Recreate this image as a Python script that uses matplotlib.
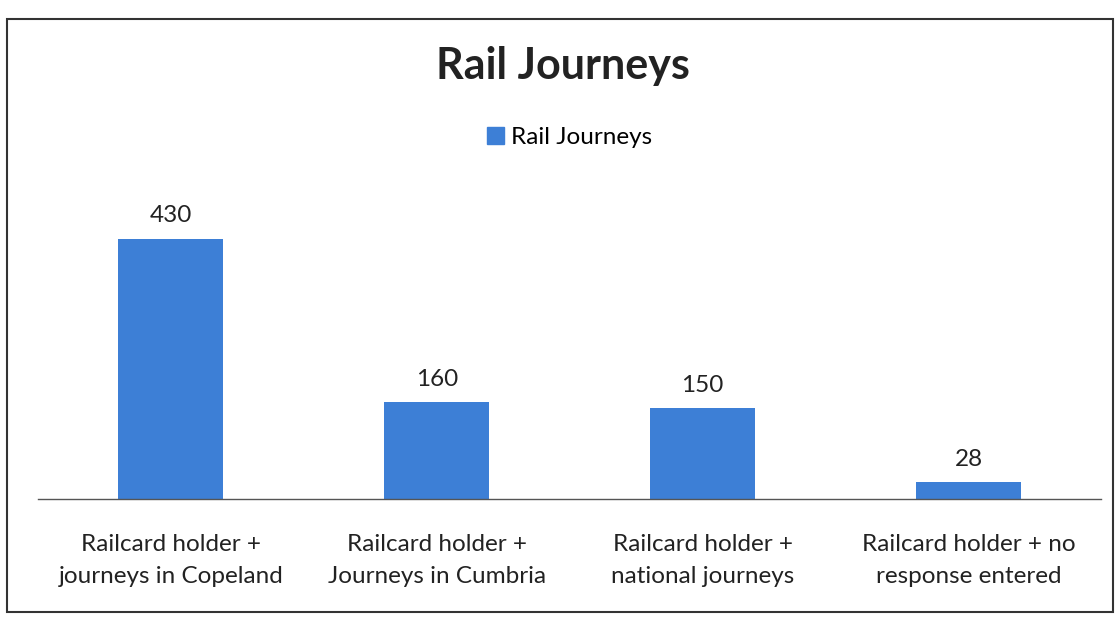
import matplotlib
matplotlib.use("Agg")
import matplotlib.pyplot as plt
from matplotlib.patches import Rectangle, Patch

categories = ["Railcard holder +\njourneys in Copeland",
              "Railcard holder +\nJourneys in Cumbria",
              "Railcard holder +\nnational journeys",
              "Railcard holder + no\nresponse entered"]
values = [430, 160, 150, 28]
series_name = "Rail Journeys"
title = "Rail Journeys"

plt.rcParams['font.family'] = ['Lato', 'DejaVu Sans']

fig = plt.figure(figsize=(11.17, 6.18), dpi=100)
ax = fig.add_axes([0.034, 0.192, 0.952, 0.495])

color = "#3D7FD6"
x = list(range(len(categories)))
bars = ax.bar(x, values, width=0.395, color=color, zorder=2)
for xi, v in zip(x, values):
    ax.annotate(str(v), (xi, v), xytext=(0, 9), textcoords="offset points",
                ha="center", va="bottom", fontsize=17.5, color="#222222")

ax.set_xlim(-0.5, 3.5)
ax.set_ylim(0, 505)
ax.set_xticks(x)
ax.set_xticklabels(categories, fontsize=17.5, color="#222222", linespacing=1.65)
ax.tick_params(axis="x", length=0, pad=25)
ax.set_yticks([])
for s in ["top", "right", "left"]:
    ax.spines[s].set_visible(False)
ax.spines["bottom"].set_color("#555555")
ax.spines["bottom"].set_linewidth(1.0)

fig.text(0.504, 0.893, title, ha="center", va="center", fontsize=31,
         fontweight="bold", color="#222222")
fig.legend(handles=[Patch(color=color, label=series_name)], loc="center",
           bbox_to_anchor=(0.51, 0.778), frameon=False, fontsize=17.5,
           handlelength=0.7, handleheight=0.7, handletextpad=0.3)

fig.patches.append(Rectangle((0.006, 0.01), 0.99, 0.96, transform=fig.transFigure,
                             fill=False, edgecolor="#333333", linewidth=1.5))

fig.savefig("out.png", dpi=100)
